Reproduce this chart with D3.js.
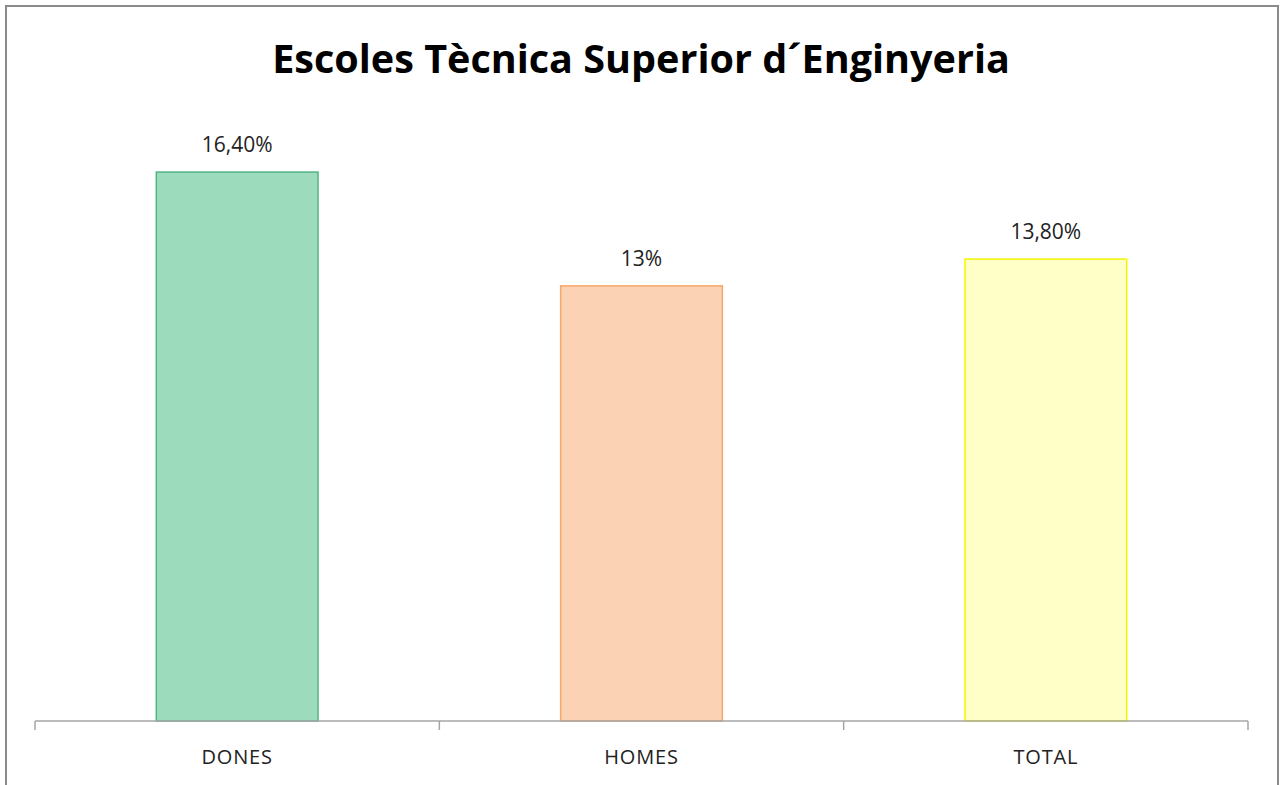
<!DOCTYPE html>
<html lang="ca">
  <head>
    <meta charset="UTF-8" />
    <title>Escoles Tècnica Superior d´Enginyeria</title>
    <script src="https://d3js.org/d3.v7.min.js"></script>
    <style>
      body {
        margin: 0;
        background: #fff;
        font-family: 'Open Sans', 'Noto Sans', sans-serif;
      }
      .value-label {
        font-size: 21px;
        fill: #222;
      }
      .cat-label {
        font-size: 20px;
        letter-spacing: 0.8px;
        fill: #222;
      }
    </style>
  </head>
  <body>
    <svg width="1286" height="785"></svg>

    <script>
      const categories = ['DONES', 'HOMES', 'TOTAL'];
      const values = [16.4, 13, 13.8];
      const valueLabels = ['16,40%', '13%', '13,80%'];
      const fills = ['#9cdcbd', '#fbd3b4', '#ffffc8'];
      const strokes = ['#52b485', '#f5a86a', '#f5f500'];

      const svg = d3.select('svg');

      // chart frame
      svg
        .append('rect')
        .attr('x', 6)
        .attr('y', 6)
        .attr('width', 1272)
        .attr('height', 800)
        .attr('fill', '#fff')
        .attr('stroke', '#8a8a8a')
        .attr('stroke-width', 2);

      const x = d3
        .scaleBand()
        .domain(categories)
        .range([35, 1248])
        .paddingInner(0.6)
        .paddingOuter(0.3);

      const y = d3.scaleLinear().domain([0, 18]).range([721, 118.5]);

      // title
      const title = svg
        .append('text')
        .attr('x', 641)
        .attr('y', 73)
        .attr('text-anchor', 'middle')
        .style('font-weight', 'bold')
        .style('font-size', '40px')
        .style('fill', '#000')
        .text('Escoles Tècnica Superior d´Enginyeria');
      const tw = title.node().getComputedTextLength();
      title.style('font-size', (40 * 738) / tw + 'px');

      // bars
      svg
        .selectAll('rect.bar')
        .data(categories)
        .enter()
        .append('rect')
        .attr('class', 'bar')
        .attr('x', (d) => x(d))
        .attr('y', (d, i) => y(values[i]))
        .attr('width', x.bandwidth())
        .attr('height', (d, i) => y(0) - y(values[i]))
        .attr('fill', (d, i) => fills[i])
        .attr('stroke', (d, i) => strokes[i])
        .attr('stroke-width', 1.5);

      // value labels
      svg
        .selectAll('text.value-label')
        .data(categories)
        .enter()
        .append('text')
        .attr('class', 'value-label')
        .attr('x', (d) => x(d) + x.bandwidth() / 2)
        .attr('y', (d, i) => y(values[i]) - 20)
        .attr('text-anchor', 'middle')
        .text((d, i) => valueLabels[i]);

      // axis
      const axis = svg
        .append('g')
        .attr('transform', 'translate(0,721)')
        .call(d3.axisBottom(x).tickSize(0).tickFormat(''));
      axis.select('.domain').attr('stroke', '#a6a6a6').attr('stroke-width', 1.5).attr('d', 'M35,0H1248');

      const bounds = [35].concat(categories.map((d) => x(d) + x.bandwidth() / 2 + x.step() / 2));
      axis
        .selectAll('line.sep')
        .data(bounds)
        .enter()
        .append('line')
        .attr('class', 'sep')
        .attr('x1', (d) => d)
        .attr('x2', (d) => d)
        .attr('y1', 0)
        .attr('y2', 9)
        .attr('stroke', '#a6a6a6')
        .attr('stroke-width', 1.5);

      svg
        .selectAll('text.cat-label')
        .data(categories)
        .enter()
        .append('text')
        .attr('class', 'cat-label')
        .attr('x', (d) => x(d) + x.bandwidth() / 2)
        .attr('y', 764)
        .attr('text-anchor', 'middle')
        .text((d) => d);
    </script>
  </body>
</html>
